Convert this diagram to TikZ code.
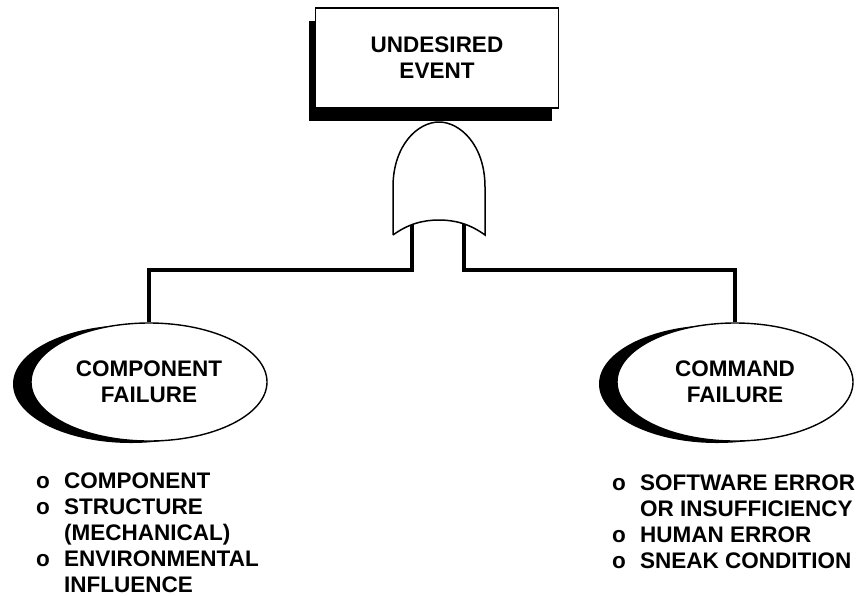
\documentclass[tikz,border=0pt]{standalone}
\usepackage{fontspec}
\setmainfont{Liberation Sans}
\usetikzlibrary{shapes.geometric,shadows}

\tikzset{
  capsfont/.style={font=\fontsize{22.5}{26}\selectfont\bfseries},
  eventbox/.style={draw,line width=1.4pt,fill=white,minimum width=243pt,minimum height=100pt,
    align=center,capsfont,drop shadow={shadow xshift=-7pt,shadow yshift=-13pt,fill=black,opacity=1}},
  faultoval/.style={ellipse,draw,line width=1.4pt,fill=white,minimum width=236pt,minimum height=118pt,
    inner sep=0pt,align=center,capsfont,drop shadow={shadow xshift=-18pt,shadow yshift=-2pt,fill=black,opacity=1}},
  lead/.style={line width=4pt},
  gateline/.style={line width=1.5pt},
  causelist/.style={anchor=base west,inner sep=0pt,capsfont}
}

\begin{document}
\begin{tikzpicture}[x=1pt,y=-1pt]
\useasboundingbox (0,0) rectangle (864,595);

% Top event
\node[eventbox] (event) at (437,58) {UNDESIRED\\EVENT};

% Basic events
\node[faultoval] (comp) at (149,382) {COMPONENT\\FAILURE};
\node[faultoval] (cmd) at (735,382) {COMMAND\\FAILURE};

% Gate legs down to the events
\coordinate (gateL) at (412,215);
\coordinate (gateR) at (464,215);
\draw[lead] (gateL) -- ++(0,55) -| (comp.north);
\draw[lead] (gateR) -- ++(0,55) -| (cmd.north);

% OR gate
\draw[gateline,fill=white] (393,235) -- (393,187)
  .. controls (393,145) and (418,122) .. (439,122)
  .. controls (460,122) and (485,145) .. (485,187) -- (485,235)
  .. controls (470,224) and (455,220) .. (439,220)
  .. controls (423,220) and (408,224) .. (393,235);

% Causes
\node[causelist] (compcauses) at (36,488) {\begin{tabular}[t]{@{}p{28pt}@{}l@{}}
  o & COMPONENT\\
  o & STRUCTURE\\
    & (MECHANICAL)\\
  o & ENVIRONMENTAL\\
    & INFLUENCE
\end{tabular}};
\node[causelist] (cmdcauses) at (612,490) {\begin{tabular}[t]{@{}p{28pt}@{}l@{}}
  o & SOFTWARE ERROR\\
    & OR INSUFFICIENCY\\
  o & HUMAN ERROR\\
  o & SNEAK CONDITION
\end{tabular}};
\end{tikzpicture}
\end{document}
